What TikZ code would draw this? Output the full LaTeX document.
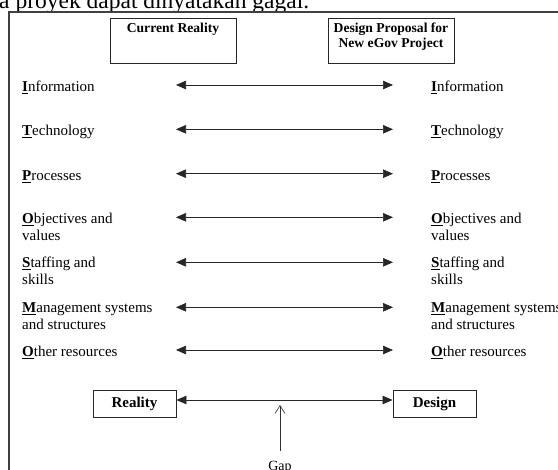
\documentclass[tikz,border=0pt]{standalone}
\usepackage{fontspec}
\setmainfont{Liberation Serif}
\usetikzlibrary{arrows.meta}
\newcommand\firstl[1]{\underline{\textbf{#1}}}
\begin{document}
\begin{tikzpicture}[x=1pt,y=-1pt,
  lbl/.style={anchor=base west, inner sep=0pt, font=\fontsize{15}{16.7}\selectfont},
  ttl/.style={font=\bfseries\fontsize{13.6}{15.3}\selectfont},
  topbox/.style={draw=black!85, line width=0.9pt, anchor=north west, inner sep=0pt},
  endbox/.style={draw=black!85, line width=0.9pt, inner sep=0pt, minimum width=83pt, minimum height=27pt, font=\bfseries\fontsize{15}{17}\selectfont},
  biarrow/.style={{Triangle[length=10pt,width=8.5pt]}-{Triangle[length=10pt,width=8.5pt]}, line width=0.7pt, draw=black!85},
  gaparrow/.style={-{Straight Barb[length=8pt,width=10pt,line width=0.6pt]}, line width=0.6pt, draw=black!80},
  frame/.style={draw=black!75, line width=1.1pt}]
\useasboundingbox (0,0) rectangle (558,470);
\clip (0,0) rectangle (558,470);

% heading text (cut off at top)
\node[anchor=base west, inner sep=0pt, font=\fontsize{23.5}{28}\selectfont] (head) at (-1,9) {a proyek dapat dinyatakan gagal.};

% outer frame
\draw[frame] (9,12) rectangle (575,490);

% top boxes
\node[topbox, minimum width=126pt, minimum height=45pt] (cr) at (110,18) {};
\node[ttl, anchor=base, inner sep=0pt] (crt) at (173,33) {Current Reality};
\node[topbox, minimum width=126pt, minimum height=45pt] (dp) at (328,18) {};
\node[ttl, anchor=base, inner sep=0pt] (dpt) at (391,32.7) {\vtop{\hbox to 0pt{\hss Design Proposal for\hss}\hbox to 0pt{\hss New eGov Project\hss}}};

% left labels
\node[lbl] (l1) at (22,91.7) {\firstl{I}nformation};
\node[lbl] (l2) at (22,136) {\firstl{T}echnology};
\node[lbl] (l3) at (22,180.7) {\firstl{P}rocesses};
\node[lbl] (l4) at (22,224) {\vtop{\hbox{\firstl{O}bjectives and}\hbox{values}}};
\node[lbl] (l5) at (22,268) {\vtop{\hbox{\firstl{S}taffing and}\hbox{skills}}};
\node[lbl] (l6) at (22,313) {\vtop{\hbox{\firstl{M}anagement systems}\hbox{and structures}}};
\node[lbl] (l7) at (22,356.7) {\firstl{O}ther resources};

% right labels
\node[lbl] (r1) at (431,91.7) {\firstl{I}nformation};
\node[lbl] (r2) at (431,136) {\firstl{T}echnology};
\node[lbl] (r3) at (431,180.7) {\firstl{P}rocesses};
\node[lbl] (r4) at (431,224) {\vtop{\hbox{\firstl{O}bjectives and}\hbox{values}}};
\node[lbl] (r5) at (431,268) {\vtop{\hbox{\firstl{S}taffing and}\hbox{skills}}};
\node[lbl] (r6) at (431,313) {\vtop{\hbox{\firstl{M}anagement systems}\hbox{and structures}}};
\node[lbl] (r7) at (431,356.7) {\firstl{O}ther resources};

% arrow end points
\coordinate (a1L) at (176,85);    \coordinate (a1R) at (393,85);
\coordinate (a2L) at (176,129.3); \coordinate (a2R) at (393,129.3);
\coordinate (a3L) at (176,173.7); \coordinate (a3R) at (393,173.7);
\coordinate (a4L) at (176,217.3); \coordinate (a4R) at (393,217.3);
\coordinate (a5L) at (176,262.3); \coordinate (a5R) at (393,262.3);
\coordinate (a6L) at (176,307.3); \coordinate (a6R) at (393,307.3);
\coordinate (a7L) at (176,350);   \coordinate (a7R) at (393,350);

\foreach \i in {1,...,7} {\draw[biarrow] (a\i L) -- (a\i R);}

% bottom boxes
\node[endbox] (real) at (134.5,403.5) {Reality};
\node[endbox] (des) at (434.5,403.5) {Design};
\draw[biarrow] ([yshift=3.5pt]real.east) -- ([yshift=3.5pt]des.west);

% gap
\node[anchor=base, inner sep=0pt, font=\fontsize{14}{16}\selectfont] (gap) at (280,471) {Gap};
\coordinate (gapS) at (280,451);
\coordinate (gapT) at (280,405);
\draw[gaparrow] (gapS) -- (gapT);
\end{tikzpicture}
\end{document}
